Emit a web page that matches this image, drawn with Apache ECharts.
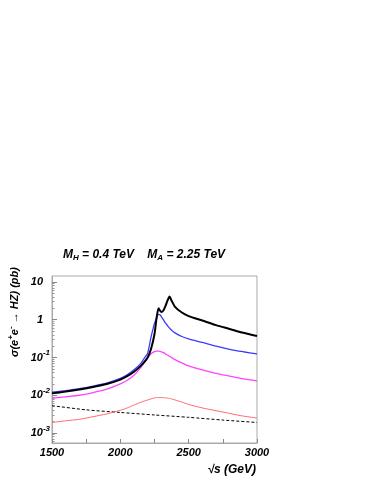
<!DOCTYPE html>
<html><head><meta charset="utf-8">
<script src="https://cdn.jsdelivr.net/npm/echarts@6/dist/echarts.min.js"></script>
<style>html,body{margin:0;padding:0;background:#fff}#c{width:374px;height:484px}</style>
</head><body><div id="c"></div>
<script>
// sqrt(s) in GeV
const sqrtS = [1500,1600,1700,1800,1900,2000,2050,2100,2150,2175,2200,2225,2250,2265,2280,2290,2300,2315,2330,2345,2360,2375,2400,2450,2500,2600,2700,2800,2900,3000];
// cross sections in pb
const sigmaBlack = [0.0112,0.0125,0.0142,0.0165,0.0198,0.026,0.032,0.042,0.060,0.075,0.10,0.17,0.42,1.1,2.0,1.75,1.6,1.75,2.3,3.2,4.1,3.2,2.2,1.55,1.25,0.95,0.72,0.57,0.45,0.37];
const sigmaBlue = [0.012,0.0133,0.0150,0.0175,0.021,0.028,0.035,0.047,0.070,0.095,0.13,0.35,0.80,1.1,1.38,1.35,1.2,1.0,0.82,0.70,0.60,0.53,0.45,0.36,0.31,0.25,0.20,0.165,0.142,0.124];
const sigmaMagenta = [0.0083,0.0091,0.0100,0.0118,0.0145,0.020,0.025,0.034,0.055,0.075,0.100,0.126,0.143,0.148,0.148,0.146,0.142,0.135,0.125,0.116,0.108,0.100,0.088,0.072,0.060,0.047,0.038,0.032,0.027,0.024];
const sigmaRed = [0.0019,0.0021,0.0023,0.0027,0.0032,0.0040,0.0046,0.0055,0.0065,0.0070,0.0075,0.0080,0.0085,0.0087,0.0087,0.0087,0.0087,0.0086,0.0085,0.0084,0.0082,0.0080,0.0075,0.0066,0.0057,0.0046,0.0039,0.0033,0.0028,0.0025];
const sqrtSDashed = [1500,1750,2000,2250,2500,2750,3000];
const sigmaDashed = [0.0053,0.0041,0.0035,0.0030,0.0026,0.0022,0.0019];
const yMajorTicks = [0.001,0.01,0.1,1,10];
const xLabelTicks = [1500,2000,2500,3000];

const yMinorTicks = [];
[0.0001,0.001,0.01,0.1,1,10].forEach(d => { for (let k=2;k<=9;k++) yMinorTicks.push(+(d*k).toPrecision(3)); });

const FONT = 'Liberation Sans';
const zip = (xs, ys) => xs.map((x,i)=>[x, ys[i]]);
const chart = echarts.init(document.getElementById('c'), null, {renderer:'canvas'});
const yMin = 5.43e-4, yMax = 14.4;
const lineSeries = (name, ys, color, width, xs, type) => ({
  name, type:'line', data: zip(xs||sqrtS, ys), showSymbol:false, smooth:0.25,
  lineStyle:{color, width, type: type||'solid'}, xAxisIndex:0, yAxisIndex:0, z:3
});
chart.setOption({
  animation:false,
  backgroundColor:'#fff',
  title:{
    text:'{t|M}{s|H}{t| = 0.4 TeV    M}{s|A}{t| = 2.25 TeV}',
    left:58, top:243,
    textStyle:{rich:{
      t:{fontFamily:FONT,fontSize:12,fontWeight:'bold',fontStyle:'italic',color:'#000'},
      s:{fontFamily:FONT,fontSize:8,fontWeight:'bold',fontStyle:'italic',color:'#000',padding:[6,0,0,0]}
    }}
  },
  grid:{left:52,right:117,top:276,bottom:41,show:true,borderColor:'#aaa',borderWidth:1,backgroundColor:'transparent'},
  xAxis:[{
    type:'value', min:1500, max:3000, interval:250,
    axisLine:{show:true,lineStyle:{color:'#aaa'}},
    axisTick:{show:true,inside:true,length:4,lineStyle:{color:'#888'}},
    splitLine:{show:false},
    axisLabel:{customValues:xLabelTicks, margin:4, formatter:v=>String(v), fontFamily:FONT,fontSize:11,fontWeight:'bold',fontStyle:'italic',color:'#000'}
  }],
  yAxis:[{
    type:'log', min:yMin, max:yMax, position:'left',
    axisLine:{show:true,lineStyle:{color:'#aaa'}},
    axisTick:{show:true,inside:true,length:5,customValues:yMajorTicks,lineStyle:{color:'#888'}},
    splitLine:{show:false},
    axisLabel:{customValues:yMajorTicks, margin:2,
      formatter:v=>{const e=Math.round(Math.log10(v)); if(e===0) return '{b|1}{p|}'; if(e===1) return '{b|10}{p|}'; return '{b|10}{s|'+e+'}';},
      rich:{
        b:{fontFamily:FONT,fontSize:11,fontWeight:'bold',fontStyle:'italic',color:'#000'},
        s:{fontFamily:FONT,fontSize:8,fontWeight:'bold',fontStyle:'italic',color:'#000',padding:[0,0,9,0]},
        p:{width:7}
      }}
  },{
    type:'log', min:yMin, max:yMax, position:'left',
    axisLine:{show:false},
    axisTick:{show:true,inside:true,length:2.5,customValues:yMinorTicks,lineStyle:{color:'#999'}},
    splitLine:{show:false},
    axisLabel:{show:false}
  }],
  graphic:[
    {type:'text', x:15, y:312, rotation:Math.PI/2,
      style:{text:'{t|σ(e}{s|+}{t|e}{s|-}{t| → HZ) (pb)}', align:'center', verticalAlign:'middle',
        rich:{
          t:{fontFamily:FONT,fontSize:11,fontWeight:'bold',fontStyle:'italic',fill:'#000'},
          s:{fontFamily:FONT,fontSize:8,fontWeight:'bold',fontStyle:'italic',fill:'#000',padding:[0,0,8,0]}
        }}},
    {type:'text', x:256, y:470,
      style:{text:'√s (GeV)', align:'right', verticalAlign:'middle',
        font:'italic bold 12px "Liberation Sans"', fill:'#000'}}
  ],
  series:[
    lineSeries('dashed', sigmaDashed, '#000', 1, sqrtSDashed, [3,2]),
    lineSeries('red', sigmaRed, '#ff6b6b', 1),
    lineSeries('magenta', sigmaMagenta, '#ff44ff', 1.3),
    lineSeries('blue', sigmaBlue, '#3a3aff', 1.3),
    lineSeries('black', sigmaBlack, '#000', 2)
  ]
});
</script></body></html>
